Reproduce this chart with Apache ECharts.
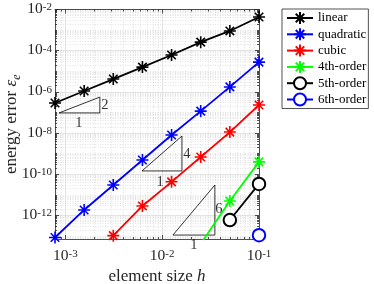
<!DOCTYPE html>
<html><head><meta charset="utf-8">
<script src="https://cdn.jsdelivr.net/npm/echarts@6/dist/echarts.min.js"></script>
<style>html,body{margin:0;padding:0;background:#fff}#c{width:374px;height:284px}</style>
</head><body><div id="c"></div>
<script>
// ---- data ----
const h = [7.8125e-4, 1.5625e-3, 3.125e-3, 6.25e-3, 1.25e-2, 2.5e-2, 5e-2, 1e-1];
const linear    = [2.9e-7, 1.1e-6, 4.2e-6, 1.6e-5, 6.2e-5, 2.6e-4, 9.1e-4, 4.3e-3];
const quadratic = [8.5e-14, 1.85e-12, 3.0e-11, 4.9e-10, 8.1e-9, 1.17e-7, 1.74e-6, 2.8e-5];
const cubic     = [null, null, 1.05e-13, 2.9e-12, 4.3e-11, 6.9e-10, 1.12e-8, 2.3e-7];
const order4    = [null, null, null, null, null, 4.2e-14, 5.0e-12, 4.0e-10];
const order5    = [null, null, null, null, null, null, 6.0e-13, 3.4e-11];
const order6    = [null, null, null, null, null, null, null, 1.1e-13];
const seriesNames = ['linear', 'quadratic', 'cubic', '4th-order', '5th-order', '6th-order'];
// slope triangles (data coordinates)
const tri2 = [[8.6e-4, 9.5e-8], [2.27e-3, 9.5e-8], [2.27e-3, 5.6e-7], [8.6e-4, 9.5e-8]];
const tri4 = [[6.18e-3, 1.45e-10], [1.6e-2, 1.45e-10], [1.6e-2, 7.2e-9], [6.18e-3, 1.45e-10]];
const tri6 = [[1.29e-2, 1.12e-13], [3.5e-2, 1.12e-13], [3.5e-2, 3.0e-11], [1.29e-2, 1.12e-13]];
const triLabels = [
  {text: '2', pos: [2.56e-3, 2.3e-7]}, {text: '1', pos: [1.38e-3, 3.1e-8]},
  {text: '4', pos: [1.8e-2, 9.8e-10]}, {text: '1', pos: [9.5e-3, 4.3e-11]},
  {text: '6', pos: [3.86e-2, 2.1e-12]}, {text: '1', pos: [2.13e-2, 3.7e-14]}
];
// axes
const xMin = 7.8125e-4, xMax = 0.1;
const yMin = 7.2e-14, yMax = 1e-2;
const xTickLabels = [1e-3, 1e-2, 1e-1];
const yTickLabels = [1e-12, 1e-10, 1e-8, 1e-6, 1e-4, 1e-2];
const xDecades = [-4, -3, -2, -1];
const yDecades = [-14, -13, -12, -11, -10, -9, -8, -7, -6, -5, -4, -3, -2];

// ---- build ----
const serif = 'Liberation Serif';
const axisColor = '#262626';
function minorVals(decs, lo, hi, majors) {
  const out = [];
  decs.forEach(d => { for (let m = 1; m <= 9; m++) {
    const v = parseFloat((m * Math.pow(10, d)).toPrecision(6));
    if (v >= lo * 0.999 && v <= hi * 1.001 && !majors.some(t => Math.abs(t / v - 1) < 1e-6)) out.push(v);
  }});
  return out;
}
const xMinor = minorVals(xDecades, xMin, xMax, xTickLabels);
const yMinor = minorVals(yDecades, yMin, yMax, yTickLabels);

const rich = {
  b: {fontSize: 15.5, fontFamily: serif, color: axisColor, lineHeight: 15, verticalAlign: 'bottom'},
  s: {fontSize: 11, fontFamily: serif, color: axisColor, lineHeight: 11, verticalAlign: 'top', padding: [0, 0, 8, 0]}
};
const fmt = v => '{b|10}{s|' + Math.round(Math.log10(v)) + '}';
const lineW = 0.8;
const majorSplit = {show: true, lineStyle: {color: '#dcdcdc', width: 0.8}};
const minorSplit = {show: true, lineStyle: {color: '#d0d0d0', width: 0.6, type: [1, 1.5]}};

function xAx(pos, vals, len, withLine, split, labels) {
  return {
    type: 'log', logBase: 10, min: xMin, max: xMax, position: pos,
    axisLine: {show: withLine, lineStyle: {color: axisColor, width: lineW}},
    axisTick: {show: true, inside: true, length: len, customValues: vals, lineStyle: {color: axisColor, width: lineW}},
    axisLabel: labels ? {show: true, customValues: xTickLabels, formatter: fmt, rich: rich, margin: 10} : {show: false},
    splitLine: split || {show: false}, minorTick: {show: false}, minorSplitLine: {show: false}
  };
}
function yAx(pos, vals, len, withLine, split, labels) {
  return {
    type: 'log', logBase: 10, min: yMin, max: yMax, position: pos,
    axisLine: {show: withLine, lineStyle: {color: axisColor, width: lineW}},
    axisTick: {show: true, inside: true, length: len, customValues: vals, lineStyle: {color: axisColor, width: lineW}},
    axisLabel: labels ? {show: true, customValues: yTickLabels, formatter: fmt, rich: rich, margin: 3} : {show: false},
    splitLine: split || {show: false}, minorTick: {show: false}, minorSplitLine: {show: false}
  };
}
const xAxes = [
  xAx('bottom', xMinor, 2, false, minorSplit, false),
  xAx('bottom', xTickLabels, 4, true, majorSplit, true),
  xAx('top', xMinor, 2, false, null, false),
  xAx('top', xTickLabels, 4, true, null, false)
];
Object.assign(xAxes[1], {
  name: '{t|element size }{i|h}', nameLocation: 'middle', nameGap: 29, nameMoveOverlap: false,
  nameTextStyle: {rich: {t: {fontSize: 17, fontFamily: serif, color: axisColor}, i: {fontSize: 17, fontFamily: serif, fontStyle: 'italic', color: axisColor}}}
});
const yAxes = [
  yAx('left', yMinor, 2, false, minorSplit, false),
  yAx('left', yTickLabels, 4, true, majorSplit, true),
  yAx('right', yMinor, 2, false, null, false),
  yAx('right', yTickLabels, 4, true, null, false)
];
Object.assign(yAxes[1], {
  name: '{t|energy error }{e|ε}{sub|e}', nameLocation: 'middle', nameGap: 35, nameMoveOverlap: false,
  nameTextStyle: {rich: {
    t: {fontSize: 17, fontFamily: serif, color: axisColor, lineHeight: 18, verticalAlign: 'bottom'},
    e: {fontSize: 17, fontFamily: serif, fontStyle: 'italic', color: axisColor, lineHeight: 18, verticalAlign: 'bottom'},
    sub: {fontSize: 12, fontFamily: serif, fontStyle: 'italic', color: axisColor, lineHeight: 11, verticalAlign: 'bottom', padding: [0, 0, -3, 0]}
  }}
});

const asterisk = 'path://M5 0L5 10M0 5L10 5M1.46 1.46L8.54 8.54M1.46 8.54L8.54 1.46';
function pairs(vals) { return h.map((x, i) => vals[i] == null ? null : [x, vals[i]]).filter(p => p); }
function dataSeries(name, vals, color, symbol, size) {
  return {
    name: name, type: 'line', xAxisIndex: 1, yAxisIndex: 1, data: pairs(vals),
    symbol: symbol, symbolSize: size, showAllSymbol: true, clip: true,
    lineStyle: {color: color, width: 1.8},
    itemStyle: {color: color, borderColor: color, borderWidth: 1.6},
    emphasis: {disabled: true}, z: 5
  };
}
function triSeries(pts) {
  return {type: 'line', xAxisIndex: 1, yAxisIndex: 1, data: pts, symbol: 'none', silent: true, clip: false,
    lineStyle: {color: '#000', width: 0.8}, z: 3};
}
const series = [
  dataSeries(seriesNames[0], linear, '#000000', asterisk, 12),
  dataSeries(seriesNames[1], quadratic, '#0000ff', asterisk, 12),
  dataSeries(seriesNames[2], cubic, '#ff0000', asterisk, 12),
  dataSeries(seriesNames[3], order4, '#00ff00', asterisk, 12),
  dataSeries(seriesNames[4], order5, '#000000', 'emptyCircle', 12.5),
  dataSeries(seriesNames[5], order6, '#0000ff', 'emptyCircle', 12.5),
  triSeries(tri2), triSeries(tri4), triSeries(tri6),
  {type: 'scatter', xAxisIndex: 1, yAxisIndex: 1, silent: true, clip: false, symbolSize: 1,
   itemStyle: {color: 'rgba(0,0,0,0)'}, z: 4,
   data: triLabels.map(l => ({name: l.text, value: l.pos})),
   label: {show: true, position: 'inside', formatter: '{b}', fontSize: 14.5, fontFamily: serif, color: '#000'}}
];

const chart = echarts.init(document.getElementById('c'), null, {renderer: 'canvas'});
chart.setOption({
  animation: false,
  backgroundColor: '#fff',
  grid: {left: 55, right: 115, top: 9.5, bottom: 45, containLabel: false, outerBoundsMode: 'none'},
  xAxis: xAxes,
  yAxis: yAxes,
  legend: {
    data: seriesNames, orient: 'vertical', left: 282, top: 9,
    padding: [2, 2, 2, 4], itemGap: 2.3, itemWidth: 26, itemHeight: 15,
    borderColor: axisColor, borderWidth: 0.8, backgroundColor: '#fff',
    textStyle: {fontSize: 13, fontFamily: serif, color: '#000'},
    selectedMode: false
  },
  series: series
});
</script></body></html>
